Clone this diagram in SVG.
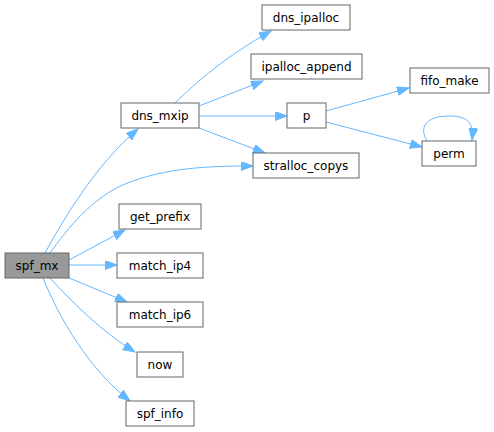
<svg xmlns="http://www.w3.org/2000/svg" width="494" height="432" viewBox="0 0 494 432">
<style>
.n rect{fill:#fff;stroke:#666;stroke-width:1}
#spf_mx rect{fill:#999}
.n text{font-family:"DejaVu Sans",sans-serif;font-size:12px;text-anchor:middle;fill:#000}
.e path{fill:none;stroke:#63b8ff;stroke-width:1;marker-end:url(#a)}
</style>
<defs>
<marker id="a" markerUnits="userSpaceOnUse" markerWidth="14" markerHeight="11" refX="12" refY="4.5" orient="auto">
<path d="M0,0 L12,4.5 L0,9 z" fill="#63b8ff" stroke="#63b8ff" stroke-width="1"/>
</marker>
</defs>
<g id="edges" class="e">
<path d="M45,253 C62,222 95,165 138,129"/>
<path d="M50,253 C68,228 92,198 125,184 C165,168 205,166 253,166"/>
<path d="M69,260 L125,230"/>
<path d="M69,265 L117,265"/>
<path d="M69,278 L127,302"/>
<path d="M50,278 C72,302 102,332 135,352"/>
<path d="M43,278 C60,320 90,370 130,401"/>
<path d="M175,103 C195,83 228,55 271,31"/>
<path d="M199,106 L263,81"/>
<path d="M199,116 L287,116"/>
<path d="M199,128 L265,153"/>
<path d="M326,111 L409,88"/>
<path d="M326,122 L422,147"/>
<path d="M427,141 C419,128 425,116 449,116 C467,116 474,122 472,140"/>
</g>
<g id="spf_mx" class="n"><rect x="5" y="253" width="64" height="25"/><text x="37" y="270">spf_mx</text></g>
<g id="dns_mxip" class="n"><rect x="121" y="103" width="78" height="25"/><text x="160" y="120">dns_mxip</text></g>
<g id="get_prefix" class="n"><rect x="119" y="204" width="82" height="25"/><text x="160" y="221">get_prefix</text></g>
<g id="match_ip4" class="n"><rect x="117" y="253" width="86" height="25"/><text x="160" y="270">match_ip4</text></g>
<g id="match_ip6" class="n"><rect x="117" y="302" width="86" height="25"/><text x="160" y="319">match_ip6</text></g>
<g id="now" class="n"><rect x="137" y="352" width="46" height="25"/><text x="160" y="369">now</text></g>
<g id="spf_info" class="n"><rect x="126" y="401" width="68" height="25"/><text x="160" y="418">spf_info</text></g>
<g id="dns_ipalloc" class="n"><rect x="262" y="5" width="88" height="25"/><text x="306" y="22">dns_ipalloc</text></g>
<g id="ipalloc_append" class="n"><rect x="251" y="54" width="111" height="25"/><text x="306.5" y="71">ipalloc_append</text></g>
<g id="p" class="n"><rect x="287" y="103" width="39" height="25"/><text x="306.5" y="120">p</text></g>
<g id="stralloc_copys" class="n"><rect x="253" y="153" width="106" height="25"/><text x="306" y="170">stralloc_copys</text></g>
<g id="fifo_make" class="n"><rect x="410" y="68" width="79" height="25"/><text x="449.5" y="85">fifo_make</text></g>
<g id="perm" class="n"><rect x="422" y="141" width="54" height="25"/><text x="449" y="158">perm</text></g>
</svg>
